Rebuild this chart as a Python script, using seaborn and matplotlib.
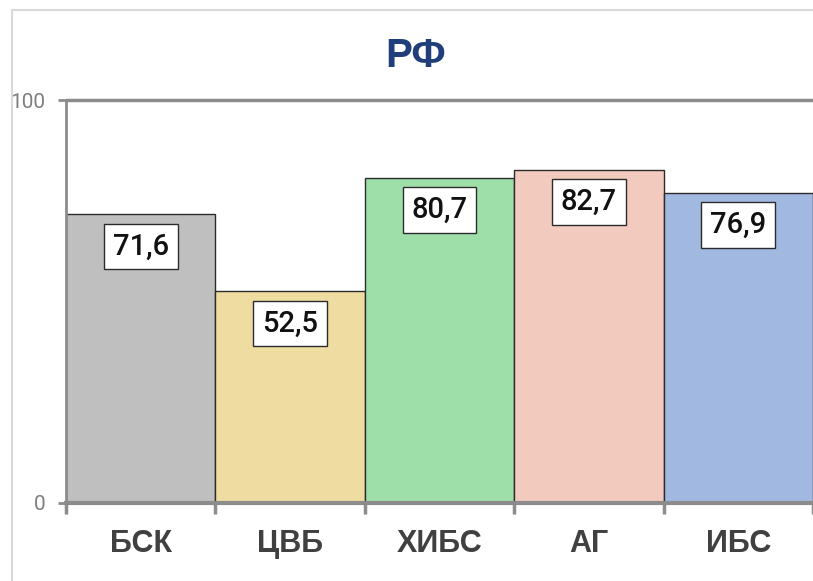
import matplotlib
matplotlib.use("Agg")
import matplotlib.pyplot as plt
from matplotlib.lines import Line2D
from matplotlib.ticker import FixedLocator
import seaborn as sns
import pandas as pd

categories = ["БСК", "ЦВБ", "ХИБС", "АГ", "ИБС"]
values = [71.6, 52.5, 80.7, 82.7, 76.9]
bar_colors = ["#BFBFBF", "#EEDCA0", "#9EDFA9", "#F3CBBE", "#A1B8E1"]
title = "РФ"
y_ticks = [0, 100]

sns.set_theme(style="white")
plt.rcParams["font.family"] = ["Liberation Sans", "DejaVu Sans"]

W, H = 813, 581
fig = plt.figure(figsize=(W / 100, H / 100), dpi=100)
ax = fig.add_axes([66 / W, (H - 503) / H, (813 - 66) / W, (503 - 100) / H])

df = pd.DataFrame({"cat": categories, "val": values})
sns.barplot(data=df, x="cat", y="val", hue="cat", palette=bar_colors,
            saturation=1, width=1.0, edgecolor="#2b2b2b", linewidth=1.0,
            legend=False, ax=ax, zorder=2)

ax.set_xlim(-0.5, len(categories) - 0.5)
ax.set_ylim(0, 100)
ax.set_xlabel("")
ax.set_ylabel("")

# axes styling
for side in ("top", "right"):
    ax.spines[side].set_visible(False)
ax.spines["left"].set_color("#8c8c8c")
ax.spines["left"].set_linewidth(2.0)
ax.spines["bottom"].set_color("#8c8c8c")
ax.spines["bottom"].set_linewidth(3.0)
ax.spines["bottom"].set_zorder(3)
ax.axhline(100, color="#8c8c8c", lw=2.5, zorder=1, clip_on=False)

ax.set_yticks(y_ticks)
ax.set_yticklabels([str(t) for t in y_ticks], family=["Roboto", "DejaVu Sans"])
ax.tick_params(axis="y", length=6, width=2, color="#8c8c8c", pad=9,
               labelsize=15, labelcolor="#7f7f7f", left=True)

ax.set_xticks(range(len(categories)))
ax.set_xticklabels(categories)
ax.tick_params(axis="x", which="major", length=0, pad=19, labelsize=22,
               labelcolor="#404040")
for lbl in ax.get_xticklabels():
    lbl.set_fontweight("bold")
ax.xaxis.set_minor_locator(FixedLocator([i - 0.5 for i in range(len(categories) + 1)]))
ax.tick_params(axis="x", which="minor", length=8, width=2.5, color="#8c8c8c",
               bottom=True)

# value labels in boxes near top of each bar
for i, v in enumerate(values):
    ax.annotate(f"{v:.1f}".replace(".", ","), xy=(i, v), xytext=(0, -13),
                textcoords="offset points", ha="center", va="top",
                fontsize=21, fontweight="medium", color="#111111",
                family=["Roboto", "DejaVu Sans"],
                bbox=dict(boxstyle="square,pad=0.3", fc="white",
                          ec="#2b2b2b", lw=1.0), zorder=5)

fig.text(416 / W, (H - 56) / H, title, ha="center", va="center",
         fontsize=29, fontweight="bold", color="#203F7A")

# outer chart frame (top and left edges)
fig.add_artist(Line2D([12 / W, 12 / W], [0, (H - 10) / H], transform=fig.transFigure,
                      color="#d9d9d9", lw=1.5))
fig.add_artist(Line2D([12 / W, 1], [(H - 10) / H, (H - 10) / H], transform=fig.transFigure,
                      color="#d9d9d9", lw=1.5))

fig.savefig("out.png", dpi=100)
